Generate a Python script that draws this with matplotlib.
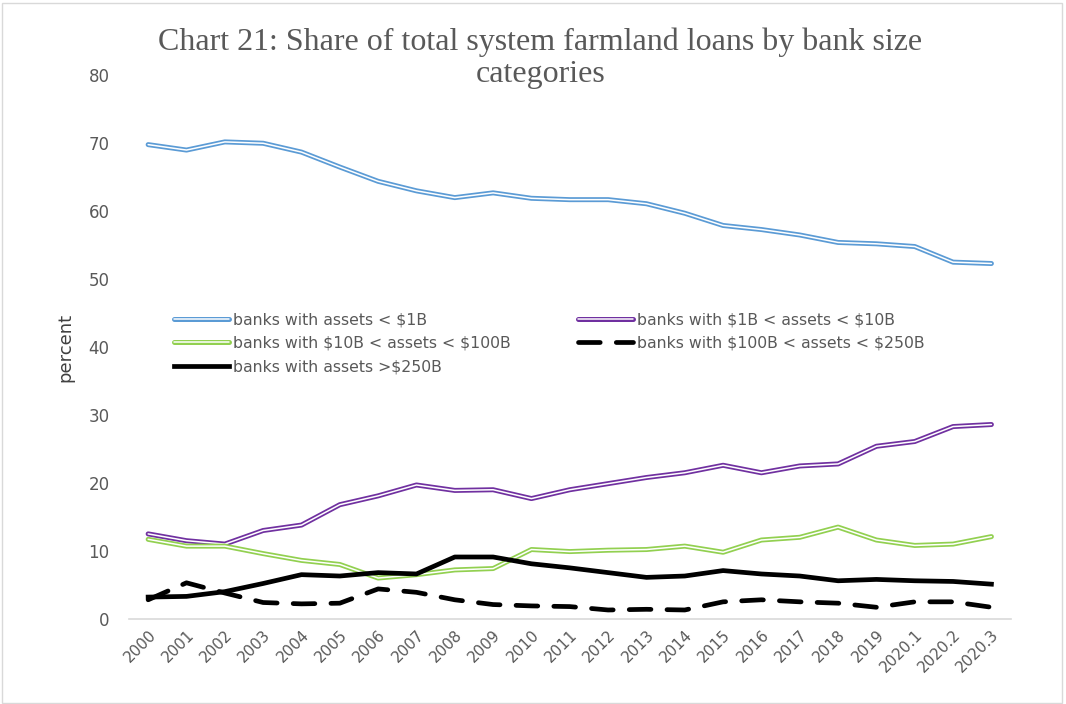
import numpy as np
import matplotlib.pyplot as plt
from matplotlib.patches import Rectangle

# Kategorier (x-aksen)
perioder = [str(a) for a in range(2000, 2020)] + ["2020.1", "2020.2", "2020.3"]

# Andel (prosent) per bankstørrelse
under_1b = [69.8, 69.0, 70.2, 70.0, 68.7, 66.5, 64.4, 63.0, 62.0, 62.7, 61.9, 61.7,
            61.7, 61.1, 59.7, 57.9, 57.3, 56.5, 55.4, 55.2, 54.8, 52.5, 52.3]
fra_1b_til_10b = [12.5, 11.5, 11.0, 13.0, 13.8, 16.8, 18.1, 19.7, 18.9, 19.0, 17.7, 19.0,
                  19.9, 20.8, 21.5, 22.6, 21.5, 22.5, 22.8, 25.4, 26.1, 28.3, 28.6]
fra_10b_til_100b = [11.7, 10.7, 10.7, 9.6, 8.6, 8.0, 6.0, 6.5, 7.2, 7.4, 10.2, 9.9,
                    10.1, 10.2, 10.7, 9.8, 11.6, 12.0, 13.5, 11.6, 10.8, 11.0, 12.1]
fra_100b_til_250b = [2.8, 5.3, 3.8, 2.4, 2.2, 2.3, 4.4, 3.9, 2.8, 2.1, 1.9, 1.8,
                     1.3, 1.4, 1.3, 2.5, 2.8, 2.5, 2.3, 1.7, 2.5, 2.5, 1.7]
over_250b = [3.2, 3.3, 4.0, 5.2, 6.5, 6.3, 6.8, 6.6, 9.1, 9.1, 8.1, 7.5,
             6.8, 6.1, 6.3, 7.1, 6.6, 6.3, 5.6, 5.8, 5.6, 5.5, 5.1]

etiketter = [r"banks with assets < \$1B", r"banks with \$1B < assets < \$10B",
             r"banks with \$10B < assets < \$100B", r"banks with \$100B < assets < \$250B",
             r"banks with assets >\$250B"]

fig = plt.figure(figsize=(10.66, 7.04), dpi=100)
ax = fig.add_axes([0.121, 0.121, 0.827, 0.772])
x = np.arange(len(perioder))

def dobbel_linje(verdier, farge):
    # Excel-aktig dobbel linje: tykk farget linje med hvit midtstripe
    ytre, = ax.plot(x, verdier, color=farge, lw=3.6, solid_joinstyle="round",
                    solid_capstyle="round")
    indre, = ax.plot(x, verdier, color="white", lw=1.1, solid_joinstyle="round",
                     solid_capstyle="round")
    return (ytre, indre)

h1 = dobbel_linje(under_1b, "#5B9BD5")
h2 = dobbel_linje(fra_1b_til_10b, "#7030A0")
h3 = dobbel_linje(fra_10b_til_100b, "#92D050")
h4, = ax.plot(x, fra_100b_til_250b, color="black", lw=3.4,
              linestyle=(0, (4.6, 3.4)), dash_capstyle="round")
h5, = ax.plot(x, over_250b, color="black", lw=3.4, solid_joinstyle="round")

ax.set_xlim(-0.5, len(perioder) - 0.5)
ax.set_ylim(0, 80)
ax.set_yticks(range(0, 81, 10))
ax.set_xticks(x)
ax.set_xticklabels(perioder, rotation=45, ha="right", rotation_mode="anchor")
ax.tick_params(length=0, colors="#595959", labelsize=12)
ax.tick_params(axis="x", pad=6, labelsize=11)
ax.tick_params(axis="y", pad=14)
for s in ["top", "right", "left"]:
    ax.spines[s].set_visible(False)
ax.spines["bottom"].set_color("#D9D9D9")
ax.spines["bottom"].set_linewidth(1.2)

ax.set_ylabel("percent", fontsize=13, color="#404040", labelpad=10)

fig.text(0.507, 0.917, "Chart 21: Share of total system farmland loans by bank size\ncategories",
         ha="center", va="center", fontsize=23, family="Liberation Serif",
         color="#595959", linespacing=1.15)

# Rekkefølge slik at legenden leses radvis
ax.legend([h1, h3, h5, h2, h4],
          [etiketter[0], etiketter[2], etiketter[4], etiketter[1], etiketter[3]],
          ncol=2, frameon=False, loc="upper left", bbox_to_anchor=(0.035, 0.59),
          fontsize=11.3, handlelength=3.5, handletextpad=0.25, columnspacing=4.3,
          labelspacing=0.55, labelcolor="#595959")

fig.patches.append(Rectangle((0.002, 0.002), 0.994, 0.994, transform=fig.transFigure,
                             fill=False, edgecolor="#D9D9D9", lw=1))

fig.savefig("out.png", dpi=100)
